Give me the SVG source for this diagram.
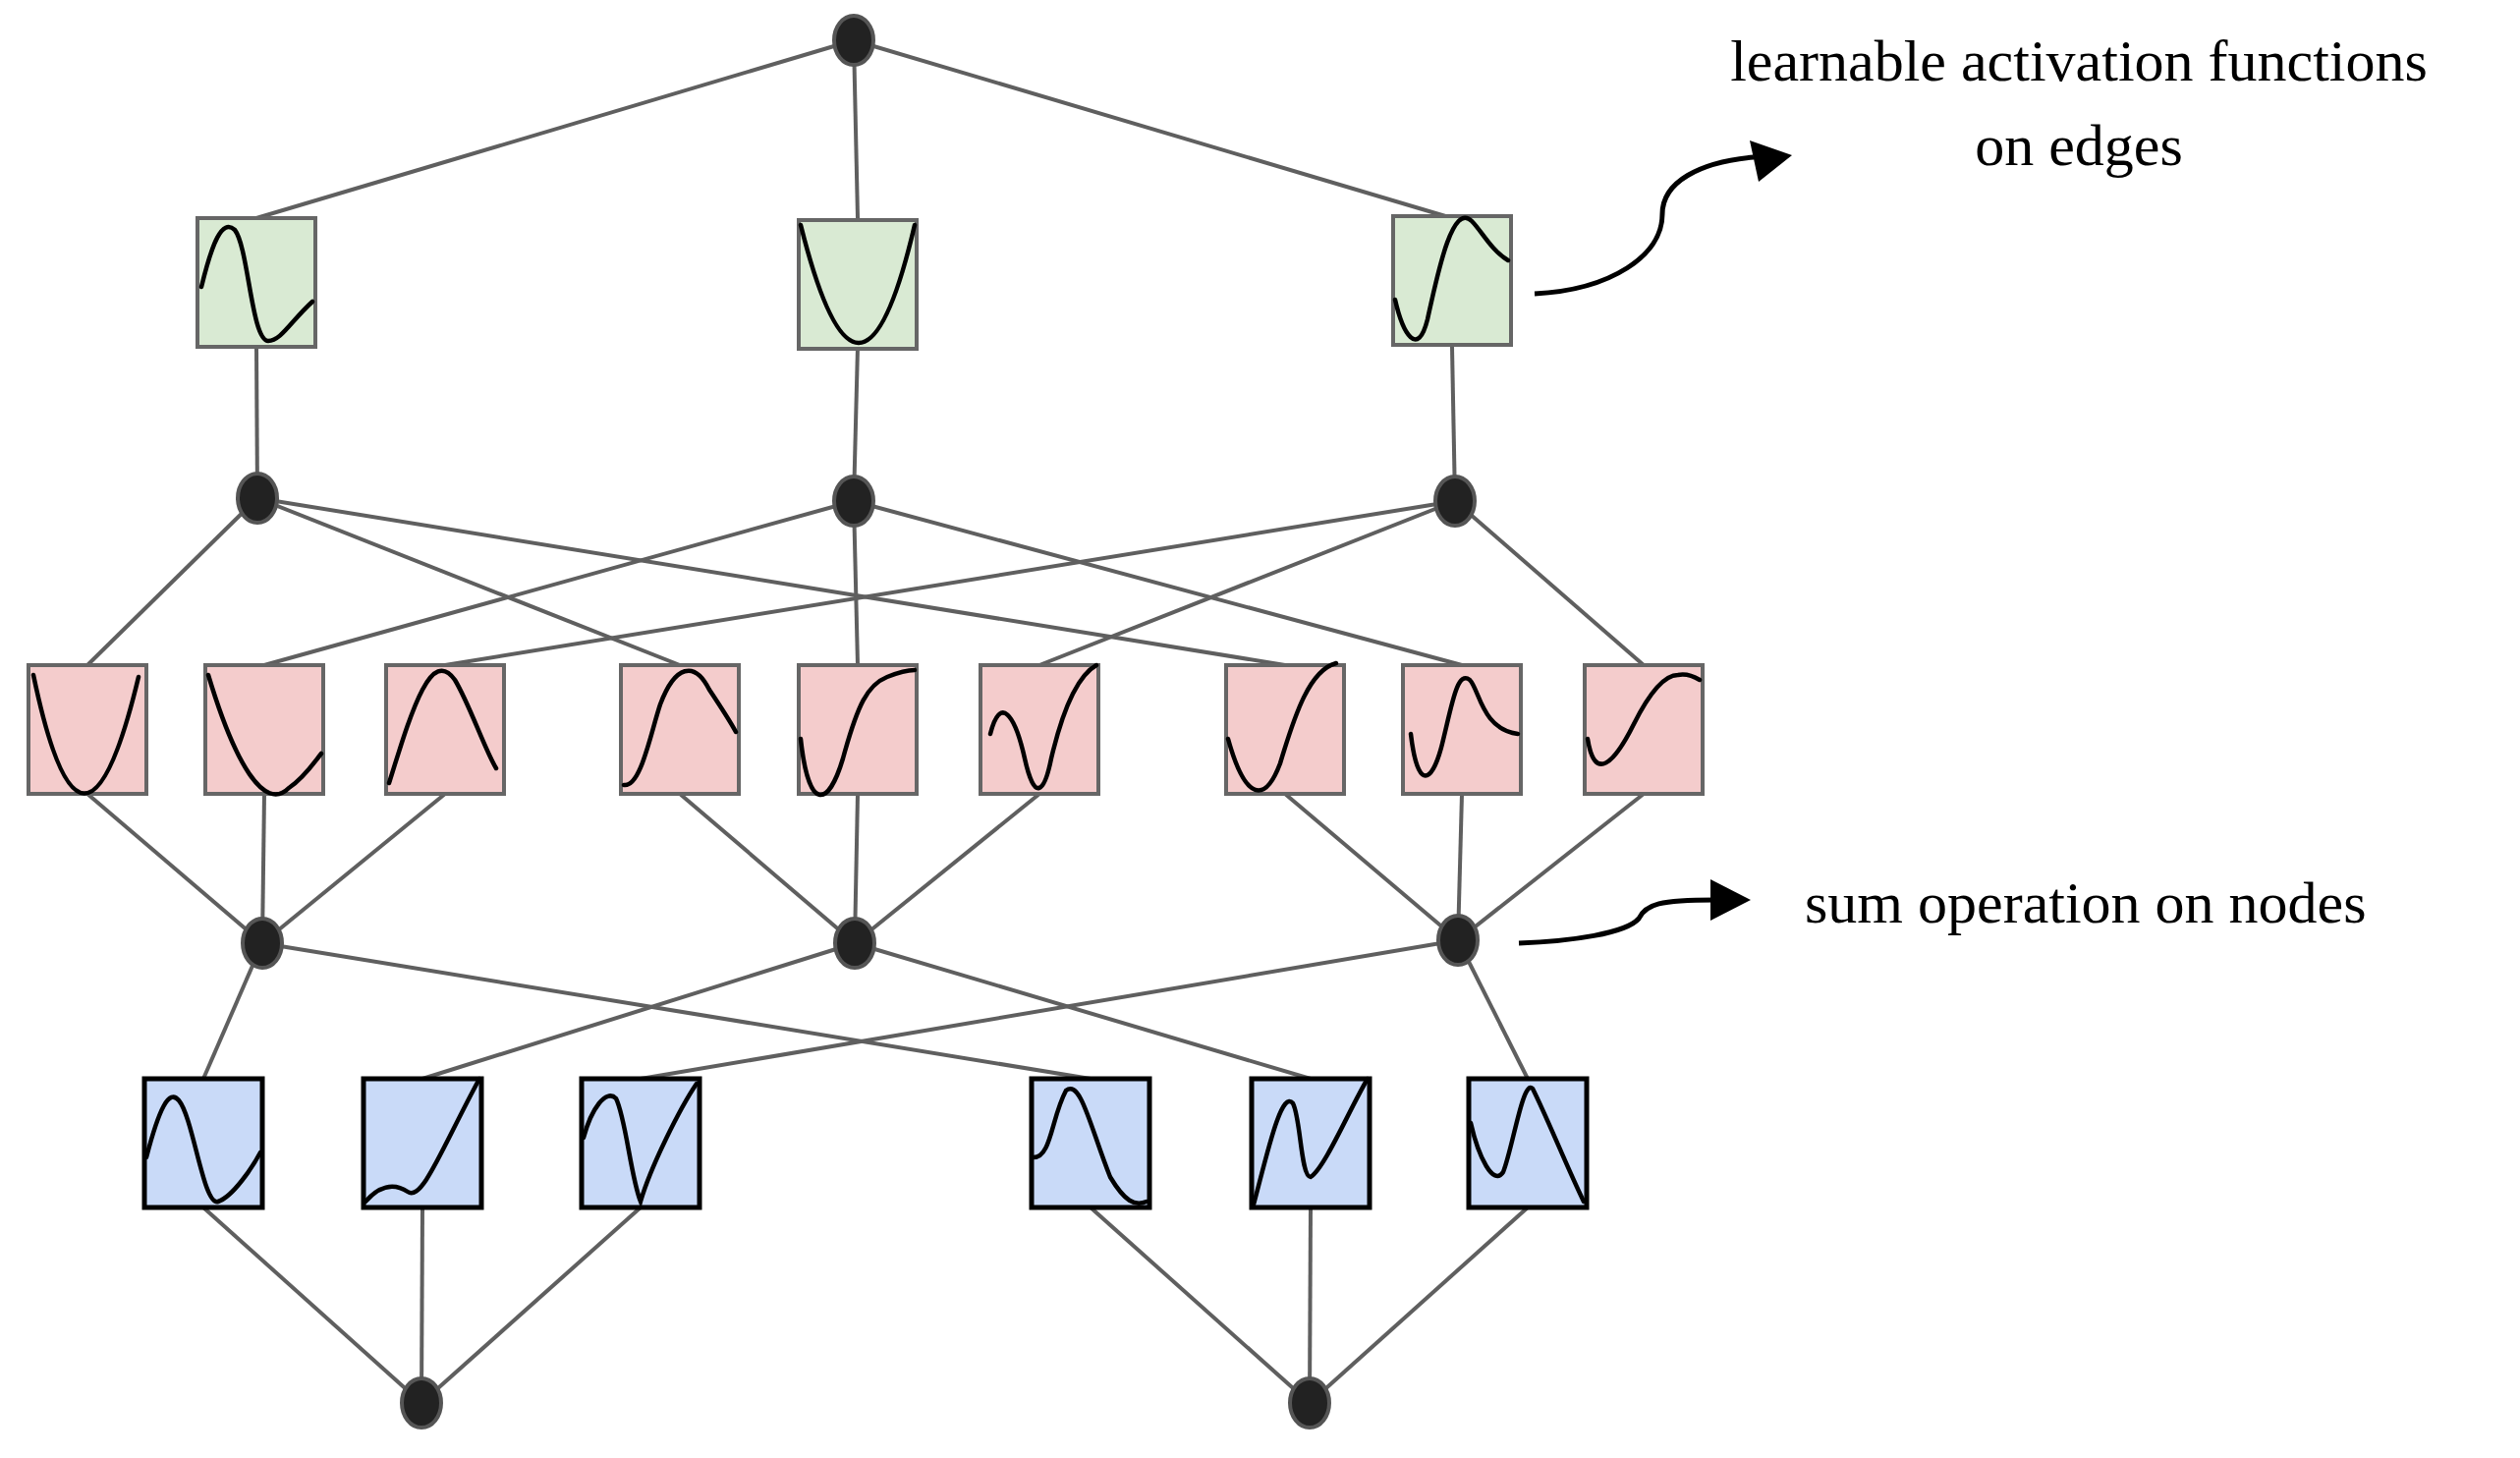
<svg xmlns="http://www.w3.org/2000/svg" width="2565" height="1484" viewBox="0 0 2565 1484">
<style>
.e{stroke:#5f5f5f;stroke-width:4;fill:none}
.n{fill:#222;stroke:#555;stroke-width:4}
.g{fill:#d9ead3;stroke:#666;stroke-width:4}
.p{fill:#f4cccc;stroke:#666;stroke-width:4}
.b{fill:#c9daf8;stroke:#000;stroke-width:5}
.c{fill:none;stroke:#000;stroke-width:4.5;stroke-linecap:round}
.t{font-family:"Liberation Serif",serif;font-size:60px;fill:#000}
.a{fill:none;stroke:#000;stroke-width:5}
</style>
<rect width="2565" height="1484" fill="#fff"/>
<g id="connectors">
<line class="e" x1="869" y1="41" x2="261" y2="222"/><line class="e" x1="869" y1="41" x2="873" y2="222"/><line class="e" x1="869" y1="41" x2="1478" y2="222"/>
<line class="e" x1="261" y1="353" x2="262" y2="507"/><line class="e" x1="873" y1="353" x2="869" y2="510"/><line class="e" x1="1478" y1="353" x2="1481" y2="510"/>
<line class="e" x1="262" y1="507" x2="89" y2="677"/><line class="e" x1="262" y1="507" x2="692" y2="677"/><line class="e" x1="262" y1="507" x2="1308" y2="677"/>
<line class="e" x1="869" y1="510" x2="269" y2="677"/><line class="e" x1="869" y1="510" x2="873" y2="677"/><line class="e" x1="869" y1="510" x2="1488" y2="677"/>
<line class="e" x1="1481" y1="510" x2="453" y2="677"/><line class="e" x1="1481" y1="510" x2="1058" y2="677"/><line class="e" x1="1481" y1="510" x2="1673" y2="677"/>
<line class="e" x1="89" y1="808" x2="267" y2="960"/><line class="e" x1="269" y1="808" x2="267" y2="960"/><line class="e" x1="453" y1="808" x2="267" y2="960"/>
<line class="e" x1="692" y1="808" x2="870" y2="960"/><line class="e" x1="873" y1="808" x2="870" y2="960"/><line class="e" x1="1058" y1="808" x2="870" y2="960"/>
<line class="e" x1="1308" y1="808" x2="1484" y2="957"/><line class="e" x1="1488" y1="808" x2="1484" y2="957"/><line class="e" x1="1673" y1="808" x2="1484" y2="957"/>
<line class="e" x1="267" y1="960" x2="207" y2="1098"/><line class="e" x1="267" y1="960" x2="1110" y2="1098"/>
<line class="e" x1="870" y1="960" x2="430" y2="1098"/><line class="e" x1="870" y1="960" x2="1334" y2="1098"/>
<line class="e" x1="1484" y1="957" x2="652" y2="1098"/><line class="e" x1="1484" y1="957" x2="1555" y2="1098"/>
<line class="e" x1="207" y1="1229" x2="429" y2="1428"/><line class="e" x1="430" y1="1229" x2="429" y2="1428"/><line class="e" x1="652" y1="1229" x2="429" y2="1428"/>
<line class="e" x1="1110" y1="1229" x2="1333" y2="1428"/><line class="e" x1="1334" y1="1229" x2="1333" y2="1428"/><line class="e" x1="1555" y1="1229" x2="1333" y2="1428"/>
</g>
<g id="nodes">
<ellipse id="n0" class="n" cx="869" cy="41" rx="20" ry="25"/>
<ellipse id="n1" class="n" cx="262" cy="507" rx="20" ry="25"/><ellipse id="n2" class="n" cx="869" cy="510" rx="20" ry="25"/><ellipse id="n3" class="n" cx="1481" cy="510" rx="20" ry="25"/>
<ellipse id="n4" class="n" cx="267" cy="960" rx="20" ry="25"/><ellipse id="n5" class="n" cx="870" cy="960" rx="20" ry="25"/><ellipse id="n6" class="n" cx="1484" cy="957" rx="20" ry="25"/>
<ellipse id="n7" class="n" cx="429" cy="1428" rx="20" ry="25"/><ellipse id="n8" class="n" cx="1333" cy="1428" rx="20" ry="25"/>
</g>
<g id="g1" transform="translate(201,222)"><rect class="g" width="120" height="131"/><path class="c" d="M4,70 C15,25 25,0 38,12 C52,30 55,125 72,125 C85,125 95,105 117,85"/></g>
<g id="g2" transform="translate(813,224)"><rect class="g" width="120" height="131"/><path class="c" d="M2,5 Q62,245 118,5"/></g>
<g id="g3" transform="translate(1418,220)"><rect class="g" width="120" height="131"/><path class="c" d="M2,85 C10,120 25,145 35,105 C45,60 60,-15 80,5 C90,15 100,35 117,45"/></g>
<g id="p1" transform="translate(29,677)"><rect class="p" width="120" height="131"/><path class="c" d="M5,10 Q55,250 112,12"/></g>
<g id="p2" transform="translate(209,677)"><rect class="p" width="120" height="131"/><path class="c" d="M3,10 C30,100 60,150 85,125 C100,115 110,100 118,90"/></g>
<g id="p3" transform="translate(393,677)"><rect class="p" width="120" height="131"/><path class="c" d="M3,120 C25,50 45,-20 70,15 C85,40 100,85 112,105"/></g>
<g id="p4" transform="translate(632,677)"><rect class="p" width="120" height="131"/><path class="c" d="M3,122 C20,125 30,70 40,40 C55,0 75,-5 90,25 C100,40 110,55 117,68"/></g>
<g id="p5" transform="translate(813,677)"><rect class="p" width="120" height="131"/><path class="c" d="M2,75 C10,150 30,145 45,95 C60,40 70,20 90,12 C100,8 110,5 118,5"/></g>
<g id="p6" transform="translate(998,677)"><rect class="p" width="120" height="131"/><path class="c" d="M10,70 C20,30 35,50 45,95 C55,140 65,130 72,95 C85,40 100,10 118,0"/></g>
<g id="p7" transform="translate(1248,677)"><rect class="p" width="120" height="131"/><path class="c" d="M2,75 C20,140 40,140 55,100 C70,50 85,5 112,-2"/></g>
<g id="p8" transform="translate(1428,677)"><rect class="p" width="120" height="131"/><path class="c" d="M8,70 C15,130 30,120 40,80 C50,40 55,5 68,15 C78,25 80,65 117,70"/></g>
<g id="p9" transform="translate(1613,677)"><rect class="p" width="120" height="131"/><path class="c" d="M3,75 C10,120 30,100 50,60 C70,20 85,10 95,10 C105,8 112,12 117,15"/></g>
<g id="b1" transform="translate(147,1098)"><rect class="b" width="120" height="131"/><path class="c" d="M2,80 C15,30 25,10 35,22 C50,40 60,130 75,125 C90,120 110,90 118,75"/></g>
<g id="b2" transform="translate(370,1098)"><rect class="b" width="120" height="131"/><path class="c" d="M2,125 C15,110 30,105 45,115 C60,125 80,70 118,0"/></g>
<g id="b3" transform="translate(592,1098)"><rect class="b" width="120" height="131"/><path class="c" d="M2,60 C10,30 25,10 35,20 C45,40 50,100 60,125 C70,90 100,30 117,5"/></g>
<g id="b4" transform="translate(1050,1098)"><rect class="b" width="120" height="131"/><path class="c" d="M2,80 C20,80 20,40 35,12 C50,0 60,50 80,100 C95,125 105,130 117,125"/></g>
<g id="b5" transform="translate(1274,1098)"><rect class="b" width="120" height="131"/><path class="c" d="M2,128 C15,80 30,10 42,25 C50,40 50,100 60,100 C75,90 100,30 118,0"/></g>
<g id="b6" transform="translate(1495,1098)"><rect class="b" width="120" height="131"/><path class="c" d="M2,45 C10,80 25,110 35,95 C45,70 55,0 65,10 C80,40 100,90 117,125"/></g>
<g id="ann1">
<path class="a" d="M1562,299 C1640,295 1692,260 1692,218 C1692,185 1730,165 1785,160"/>
<polygon points="1824,158 1781,143 1790,185" fill="#000"/>
<text class="t" x="2116" y="82" text-anchor="middle">learnable activation functions</text>
<text class="t" x="2116" y="168" text-anchor="middle">on edges</text>
</g>
<g id="ann2">
<path class="a" d="M1546,960 C1600,958 1655,950 1668,935 C1675,920 1690,916 1745,916"/>
<polygon points="1782,916 1741,895 1741,937" fill="#000"/>
<text class="t" x="1837" y="939">sum operation on nodes</text>
</g>
</svg>
